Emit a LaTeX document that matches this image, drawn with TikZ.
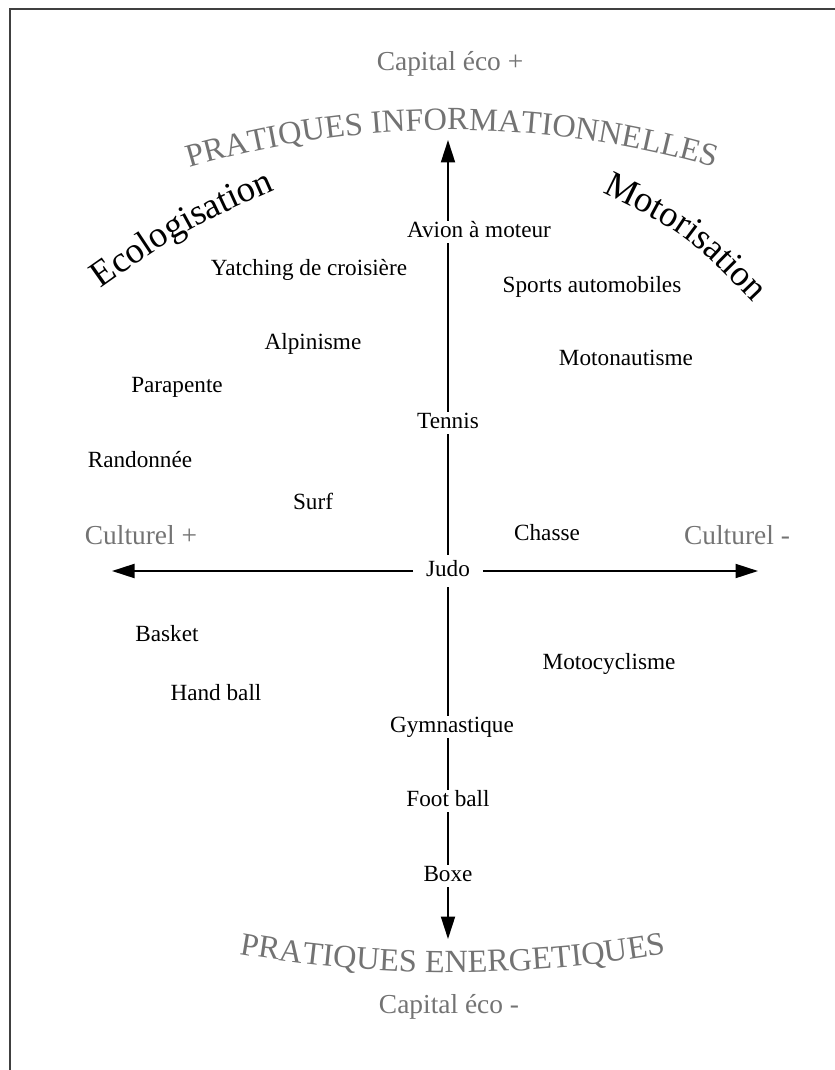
\documentclass[tikz,border=0pt]{standalone}
\usepackage{fontspec}
\setmainfont{Liberation Serif}
\usetikzlibrary{arrows.meta,decorations.text}

\begin{document}
\begin{tikzpicture}[
    x=0.025cm, y=-0.025cm,
    sport/.style={font=\fontsize{16.5}{18}\selectfont, inner xsep=9pt, inner ysep=1.9pt,
      text height=1.0em, text depth=0.2em},
    pole/.style={font=\fontsize{19.5}{22}\selectfont, text=black!55},
    axis/.style={line width=1.3pt, -{Triangle[length=16pt, width=10pt]}},
    axisseg/.style={line width=1.3pt}
  ]
  \useasboundingbox (0,0) rectangle (834,1070);
  % frame
  \draw[line width=1.4pt, black!75] (850,9) -- (10,9) -- (10,1090);

  % poles
  \node[pole] (capup) at (450,64) {Capital éco +};
  \node[pole] (capdown) at (449,1007) {Capital éco -};
  \node[pole] (cultplus) at (141,535) {Culturel +};
  \node[pole] (cultmoins) at (737,535) {Culturel -};

  % curved titles
  \path[decorate, decoration={text along path, text align=center,
      text={|\fontsize{23}{23}\selectfont\color{black!55}|PRATIQUES INFORMATIONNELLES}}]
    (170,173.7) .. controls (353.4,115.5) and (550.6,115.5) .. (734,173.7);
  \path[decorate, decoration={text along path, text align=center,
      text={|\fontsize{23}{23}\selectfont\color{black!55}|PRATIQUES ENERGETIQUES}}]
    (203,947) .. controls (367.9,980.8) and (538.1,980.8) .. (703,947);
  \path[decorate, decoration={text along path, text align=center,
      text={|\fontsize{26}{26}\selectfont|Ecologisation}}]
    (85,300) .. controls (184,230) .. (293,182);
  \path[decorate, decoration={text along path, text align=center,
      text={|\fontsize{26}{26}\selectfont|Motorisation}}]
    (595,189) .. controls (687,234) .. (759,309);

  % sports
  \node[sport] (avion) at (479,232) {Avion à moteur};
  \node[sport] (yatching) at (309,270) {Yatching de croisière};
  \node[sport] (sports) at (592,287) {Sports automobiles};
  \node[sport] (alpi) at (313,344) {Alpinisme};
  \node[sport] (motonaut) at (626,360) {Motonautisme};
  \node[sport] (parapente) at (177,387) {Parapente};
  \node[sport] (tennis) at (448,423) {Tennis};
  \node[sport] (rando) at (140,462) {Randonnée};
  \node[sport] (surf) at (313,504) {Surf};
  \node[sport] (chasse) at (547,535) {Chasse};
  \node[sport, inner ysep=5.4pt] (judo) at (448,571) {Judo};
  \node[sport] (basket) at (167,636) {Basket};
  \node[sport] (motocycl) at (609,664) {Motocyclisme};
  \node[sport] (handball) at (216,695) {Hand ball};
  \node[sport] (gym) at (452,727) {Gymnastique};
  \node[sport] (foot) at (448,801) {Foot ball};
  \node[sport] (boxe) at (448,876) {Boxe};

  % axes
  \coordinate (topend) at (448,140);
  \coordinate (bottomend) at (448,939);
  \coordinate (leftend) at (112,571);
  \coordinate (rightend) at (758,571);
  \draw[axis] (avion.north -| judo) -- (topend);
  \draw[axisseg] (avion.south -| judo) -- (tennis.north);
  \draw[axisseg] (tennis.south) -- (judo.north);
  \draw[axisseg] (judo.south) -- (gym.north -| judo);
  \draw[axisseg] (gym.south -| judo) -- (foot.north);
  \draw[axisseg] (foot.south) -- (boxe.north);
  \draw[axis] (boxe.south) -- (bottomend);
  \draw[axis] (judo.west) -- (leftend);
  \draw[axis] (judo.east) -- (rightend);
\end{tikzpicture}
\end{document}
